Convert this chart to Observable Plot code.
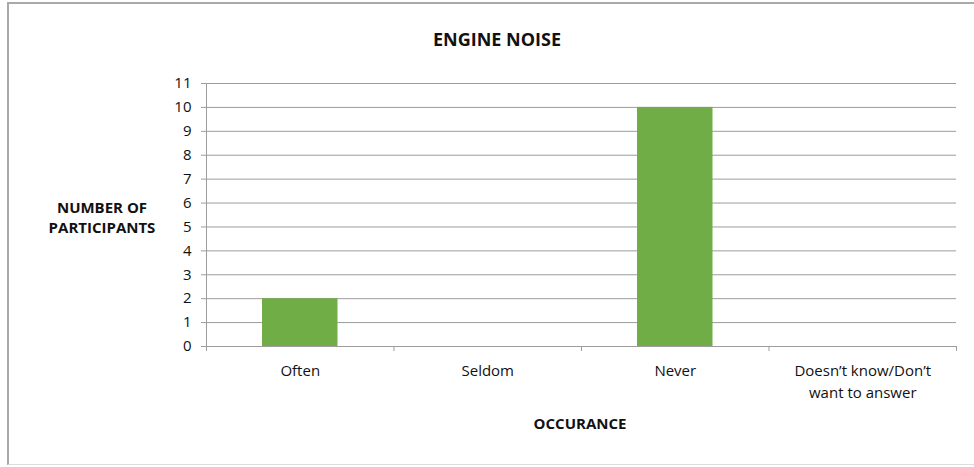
<!DOCTYPE html>
<html>
<head>
<meta charset="utf-8">
<script src="https://cdn.jsdelivr.net/npm/d3@7"></script>
<script src="https://cdn.jsdelivr.net/npm/@observablehq/plot@0.6"></script>
<style>
  html, body { margin: 0; padding: 0; background: #fff; }
  #wrap { position: relative; width: 974px; height: 467px; overflow: hidden; font-family: "Open Sans", sans-serif; }
  #frame { position: absolute; left: 7px; top: 2px; width: 1000px; height: 463px;
           border-left: 2px solid #a9a9a9; border-top: 2px solid #a9a9a9; border-bottom: 1px solid #dcdcdc; box-sizing: border-box; }
  #chart { position: absolute; left: 0; top: 0; }
  .title { position: absolute; font-weight: bold; color: #111; white-space: nowrap; }
  #t1 { left: 0; width: 994px; top: 27px; text-align: center; font-size: 18px; }
  #t2 { left: 40px; width: 124px; top: 197px; text-align: center; font-size: 15px; line-height: 20px; }
  #t3 { left: 480px; width: 200px; top: 413px; text-align: center; font-size: 15px; }
</style>
</head>
<body>
<div id="wrap">
  <div id="frame"></div>
  <div id="chart"></div>
  <div class="title" id="t1">ENGINE NOISE</div>
  <div class="title" id="t2">NUMBER OF<br>PARTICIPANTS</div>
  <div class="title" id="t3">OCCURANCE</div>
</div>
<script>
const categories = ["Often", "Seldom", "Never", "Doesn\u2019t know/Don\u2019t\nwant to answer"];
const values = [2, 0, 10, 0];
const yTicks = [0, 1, 2, 3, 4, 5, 6, 7, 8, 9, 10, 11];
const boundaryTicks = [0, 1, 2, 3, 4];

const data = categories.map((c, i) => ({category: c, index: i, value: values[i]}));

const plot = Plot.plot({
  width: 974,
  height: 467,
  marginLeft: 206,
  marginRight: 18,
  marginTop: 83,
  marginBottom: 121,
  style: {fontFamily: "Open Sans, sans-serif", fontSize: "15px", color: "#111", background: "transparent"},
  x: {domain: [0, categories.length], axis: null},
  y: {domain: [0, 11], axis: null},
  marks: [
    Plot.gridY(yTicks, {stroke: "#9c9c9c", strokeOpacity: 1}),
    Plot.rectY(data, {x1: "index", x2: d => d.index + 1, y: "value", fill: "#70AD47", insetLeft: 56, insetRight: 56}),
    Plot.ruleX([0], {stroke: "#9c9c9c"}),
    Plot.ruleY([0], {stroke: "#9c9c9c"}),
    Plot.axisY({ticks: yTicks, tickSize: 5, tickPadding: 10, stroke: "#9c9c9c", label: null, fontSize: 15, fill: "#111"}),
    Plot.axisX({ticks: boundaryTicks, tickSize: 5, tickFormat: () => "", stroke: "#9c9c9c", label: null}),
    Plot.text(data, {x: d => d.index + 0.5, text: "category", frameAnchor: "bottom", lineAnchor: "top", dy: 14, lineHeight: 1.45, fontSize: 15, fill: "#111"})
  ]
});
document.getElementById("chart").appendChild(plot);
</script>
</body>
</html>
